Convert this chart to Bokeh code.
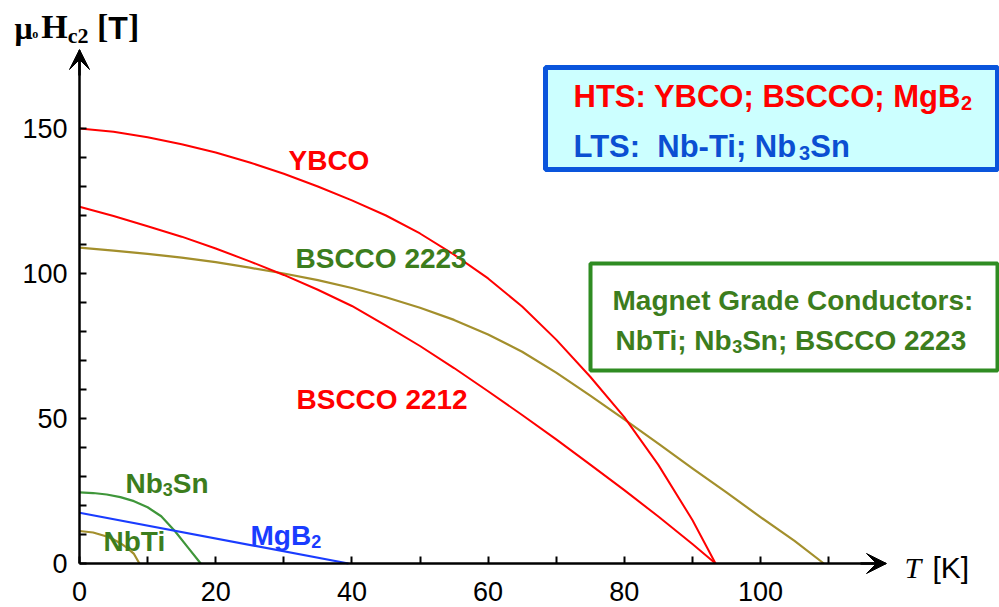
from bokeh.plotting import figure
from bokeh.models import Range1d, FixedTicker, Arrow, VeeHead, Label, BoxAnnotation, LinearAxis
from bokeh.embed import file_html
from bokeh.resources import INLINE

# ---------------- data ----------------
ybco_T = [0, 5, 10, 15, 20, 25, 30, 35, 40, 45, 50, 55, 60, 65, 70, 75, 80, 85, 90, 93.4]
ybco_H = [150, 148.9, 147.0, 144.6, 141.7, 138.3, 134.4, 130.0, 125.2, 120.0, 113.8,
          106.5, 98.3, 88.6, 77.2, 64.4, 50.5, 34.0, 15.0, 0]

bscco2212_T = [0, 5, 10, 15, 20, 25, 30, 35, 40, 45, 50, 55, 60, 65, 70, 75, 80, 85, 90, 93.4]
bscco2212_H = [123, 119.8, 116.3, 112.7, 108.6, 104.2, 99.5, 94.4, 88.8, 82.0, 75.0,
               67.4, 59.4, 51.2, 42.8, 34.1, 25.3, 16.2, 6.7, 0]

bscco2223_T = [0, 5, 10, 15, 20, 25, 30, 35, 40, 45, 50, 55, 60, 65, 70, 75, 80, 85,
               90, 95, 100, 105, 109.3]
bscco2223_H = [108.9, 107.9, 106.8, 105.5, 103.9, 102.0, 100.0, 97.7, 95.0, 91.8, 88.2,
               84.0, 79.0, 73.0, 65.8, 57.9, 49.7, 41.3, 32.8, 24.5, 16.0, 7.8, 0]

nb3sn_T = [0, 2, 4, 6, 8, 10, 12, 14, 16, 17.8]
nb3sn_H = [24.5, 24.3, 23.8, 22.9, 21.5, 19.4, 16.3, 11.2, 5.3, 0]

nbti_T = [0, 2, 4, 5, 6, 7, 8, 8.8]
nbti_H = [11.2, 10.7, 9.3, 8.3, 7.0, 5.4, 3.3, 0]

mgb2_T = [0, 39.5]
mgb2_H = [17.5, 0]

x_ticks = [0, 20, 40, 60, 80, 100]
x_minor = [10, 30, 50, 70, 90, 110]
y_ticks = [0, 50, 100, 150]
y_minor = [10, 20, 30, 40, 60, 70, 80, 90, 110, 120, 130, 140]

# ---------------- colours ----------------
RED = "#ff0000"
OLIVE = "#a38f2c"
GREEN_LINE = "#3f963a"
GREEN_TXT = "#3c7d1d"
BLUE_LINE = "#1a3cff"
BLUE_TXT = "#0b4fd2"

# ---------------- geometry helpers (page pixel -> data) ----------------
W, H = 999, 607
X0, SX = 79, 6.81     # pixel of T=0, pixels per kelvin
Y0, SY = 563, 2.9     # pixel of H=0, pixels per tesla
PAD_L, PAD_T = 80, 60  # side panels pushed off-page


def dx(px):
    return (px - X0) / SX


def dy(py):
    return (Y0 - py) / SY


p = figure(width=W + PAD_L, height=H + PAD_T, output_backend="svg", toolbar_location=None,
           x_range=Range1d(dx(0), dx(W)), y_range=Range1d(dy(H), dy(0)),
           x_axis_location=None, y_axis_location=None,
           min_border_left=PAD_L, min_border_top=PAD_T,
           min_border_bottom=0, min_border_right=0,
           styles={"margin-left": f"-{PAD_L}px", "margin-top": f"-{PAD_T}px"})
p.outline_line_color = None
p.grid.visible = False
p.background_fill_color = "white"
p.border_fill_color = "white"

xaxis = LinearAxis(fixed_location=0, bounds=(0, dx(885)),
                   ticker=FixedTicker(ticks=x_ticks, minor_ticks=x_minor),
                   major_tick_in=0, major_tick_out=7, minor_tick_in=0, minor_tick_out=7,
                   major_label_standoff=-44)
yaxis = LinearAxis(fixed_location=0, bounds=(0, dy(50)),
                   ticker=FixedTicker(ticks=y_ticks, minor_ticks=y_minor),
                   major_tick_in=7, major_tick_out=0, minor_tick_in=7, minor_tick_out=0,
                   major_label_standoff=12)
p.add_layout(xaxis, "above")
p.add_layout(yaxis, "left")
for ax in (xaxis, yaxis):
    ax.axis_line_width = 2.5
    ax.axis_line_color = "black"
    ax.major_tick_line_width = 2
    ax.minor_tick_line_width = 2
    ax.major_label_text_font = "Liberation Sans"
    ax.major_label_text_font_size = "27px"
    ax.major_label_text_color = "black"

# axis arrow heads
p.add_layout(Arrow(end=VeeHead(size=20, fill_color="black", line_color="black"),
                   x_start=dx(860), y_start=0, x_end=dx(886), y_end=0,
                   line_width=2.5, line_color="black"))
p.add_layout(Arrow(end=VeeHead(size=20, fill_color="black", line_color="black"),
                   x_start=0, y_start=dy(75), x_end=0, y_end=dy(49),
                   line_width=2.5, line_color="black"))

# ---------------- curves ----------------
p.line(bscco2223_T, bscco2223_H, line_color=OLIVE, line_width=2.2, line_join="round")
p.line(ybco_T, ybco_H, line_color=RED, line_width=2, line_join="round")
p.line(bscco2212_T, bscco2212_H, line_color=RED, line_width=2, line_join="round")
p.line(nbti_T, nbti_H, line_color=OLIVE, line_width=2.2, line_join="round")
p.line(nb3sn_T, nb3sn_H, line_color=GREEN_LINE, line_width=2.2, line_join="round")
p.line(mgb2_T, mgb2_H, line_color=BLUE_LINE, line_width=2.2)

# ---------------- boxes ----------------
p.add_layout(BoxAnnotation(left=dx(545), right=dx(997), top=dy(67), bottom=dy(169),
                           fill_color="#ccffff", fill_alpha=1,
                           line_color="#0a55dc", line_width=5, line_alpha=1))
p.add_layout(BoxAnnotation(left=dx(590), right=dx(997), top=dy(263), bottom=dy(370),
                           fill_color="white", fill_alpha=1,
                           line_color="#2f8c22", line_width=4, line_alpha=1))

# ---------------- rich text helper ----------------
NB = "\u00a0"
SANS_B = {" ": .278, NB: .278, ":": .333, ";": .333, "-": .333, "[": .333, "]": .333,
          "A": .722, "B": .722, "C": .722, "D": .722, "G": .778, "H": .722, "K": .722,
          "L": .611, "M": .833, "N": .722, "O": .778, "S": .667, "T": .611, "Y": .667,
          "a": .556, "b": .611, "c": .556, "d": .611, "e": .556, "g": .611, "i": .278,
          "n": .611, "o": .611, "r": .389, "s": .556, "t": .333, "u": .611}
SANS_R = {" ": .278, NB: .278, "[": .278, "]": .278, "K": .667}
SERIF_B = {"μ": .556, "o": .500, "H": .778, "c": .444, "2": .500, " ": .250, NB: .250,
           "[": .333, "]": .333}
SERIF_I = {"T": .556}
BASE_FIX = 0.37  # renderer places the alphabetic baseline this many ems too low


def width(s, table, size):
    return sum(table.get(c, .556) for c in s) * size


def rich(px, py, pieces):
    x = px
    for txt, font, size, style, color, table, shift in pieces:
        p.add_layout(Label(x=dx(x), y=dy(py + shift - BASE_FIX * size), text=txt,
                           text_font=font, text_font_size=f"{size}px",
                           text_font_style=style, text_color=color,
                           text_baseline="alphabetic", text_align="left"))
        x += width(txt, table, size)


SANS = "Liberation Sans"
SERIF = "Liberation Serif"


def plain(px, py, txt, color, size=28):
    rich(px, py, [(txt, SANS, size, "bold", color, SANS_B, 0)])


def chem(px, py, a, sub, b, color, size=28):
    pieces = [(a, SANS, size, "bold", color, SANS_B, 0),
              (sub, SANS, int(size * 0.66), "bold", color, SANS_B, size * 0.1)]
    if b:
        pieces.append((b, SANS, size, "bold", color, SANS_B, 0))
    rich(px, py, pieces)


# curve labels
plain(288, 170, "YBCO", RED)
plain(295, 268, "BSCCO 2223", GREEN_TXT)
plain(296, 409, "BSCCO 2212", RED)
chem(125, 493, "Nb", "3", "Sn", GREEN_TXT)
plain(103, 551, "NbTi", GREEN_TXT)
chem(250, 545, "MgB", "2", "", BLUE_LINE)

# box texts
chem(573, 107, "HTS: YBCO; BSCCO; MgB", "2", "", RED, size=31)
chem(573, 157, "LTS:" + NB + " Nb-Ti; Nb", "3", "Sn", BLUE_TXT, size=31)
plain(612, 310, "Magnet Grade Conductors:", GREEN_TXT, size=28)
chem(615, 350, "NbTi; Nb", "3", "Sn; BSCCO 2223", GREEN_TXT, size=28)

# axis titles
rich(14, 39, [("μ", SERIF, 32, "bold", "black", SERIF_B, 0),
              ("o" + NB, SERIF, 12, "bold", "black", SERIF_B, -1),
              ("H", SERIF, 34, "bold", "black", SERIF_B, 0),
              ("c2", SERIF, 22, "bold", "black", SERIF_B, 4),
              (NB + "[", SERIF, 34, "bold", "black", SERIF_B, 0),
              ("T", SANS, 32, "bold", "black", SANS_B, 0),
              ("]", SERIF, 34, "bold", "black", SERIF_B, 0)])
rich(904, 578, [("T", SERIF, 30, "italic", "black", SERIF_I, 0)])
rich(932, 578, [("[", SANS, 30, "normal", "black", SANS_R, 0),
                ("K", SANS, 30, "normal", "black", SANS_R, 0),
                ("]", SANS, 30, "normal", "black", SANS_R, 0)])

open("out.html", "w").write(file_html(p, INLINE))
